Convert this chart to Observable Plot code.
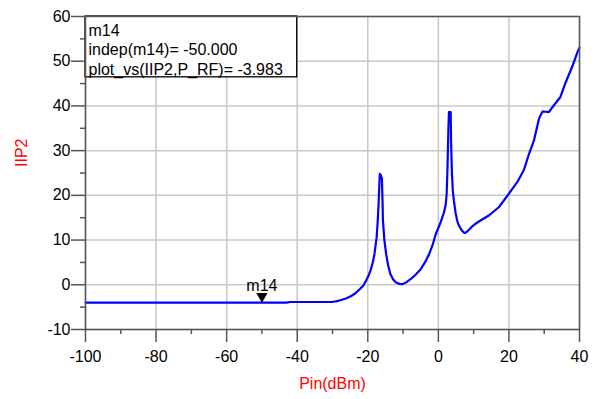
<!DOCTYPE html>
<html>
<head>
<meta charset="utf-8">
<script src="https://cdn.jsdelivr.net/npm/d3@7"></script>
<script src="https://cdn.jsdelivr.net/npm/@observablehq/plot@0.6"></script>
<style>
  html, body { margin: 0; padding: 0; background: #fff; }
  #chart svg { display: block; }
</style>
</head>
<body>
<div id="chart"></div>
<script>
// Pin (dBm) values and the IIP2 curve
const pin = [-100, -90, -80, -70, -60, -50, -43, -42, -35, -30, -29, -27.5, -26, -24.7, -23.5, -22.3, -21.3, -20.5, -19.8, -19.1,
  -18.6, -18.1, -17.5, -17.2, -16.9, -16.6, -16.3, -16.0, -15.8, -15.7, -15.3, -14.8, -14.2, -13.6, -12.8, -12.0, -11.0, -10.1, -9.0, -7.8,
  -6.4, -5.0, -3.8, -2.6, -1.6, -0.75, 0.66, 1.6, 2.1, 2.35, 2.55, 2.7, 2.85, 3.0, 3.5, 3.6, 3.85, 4.1, 4.4, 4.9,
  5.35, 5.8, 6.5, 7.2, 7.6, 8.0, 8.7, 9.5, 10.6, 12.4, 14.3, 17.2, 20.0, 22.4, 24.2, 25.7, 27.1, 28.5, 29.2, 29.6,
  30.4, 31.3, 32.7, 34.6, 36.1, 37.9, 39.4, 40];
const iip2 = [-3.98, -3.98, -3.98, -3.98, -3.98, -3.983, -3.98, -3.85, -3.85, -3.8, -3.7, -3.4, -3.0, -2.5, -1.9, -1.0, -0.2, 0.9, 2.0, 3.5,
  5.0, 6.9, 10.6, 14.0, 18.8, 24.8, 24.5, 23.7, 18.0, 14.3, 10.0, 6.9, 4.2, 2.4, 1.2, 0.5, 0.2, 0.15, 0.6, 1.3,
  2.3, 3.5, 5.0, 6.9, 9.0, 11.3, 14.0, 16.2, 18.0, 20.3, 25.0, 30.0, 35.0, 38.6, 38.6, 32.0, 24.8, 21.0, 18.8, 16.0,
  14.3, 13.3, 12.3, 11.7, 11.6, 11.8, 12.3, 13.0, 13.7, 14.6, 15.5, 17.4, 20.4, 23.0, 25.6, 29.3, 32.3, 37.1, 38.3, 38.8,
  38.7, 38.6, 40.1, 42.0, 45.3, 48.7, 52.0, 53.0];

// Axis ticks
const xTicks = [-100, -80, -60, -40, -20, 0, 20, 40];
const xMinorTicks = [-90, -70, -50, -30, -10, 10, 30];
const yTicks = [-10, 0, 10, 20, 30, 40, 50, 60];
const yMinorTicks = [-5, 5, 15, 25, 35, 45, 55];

// Marker m14
const markerName = ["m14"];
const markerX = [-50.0];
const markerY = [-3.983];
const markerLines = ["m14", "indep(m14)= -50.000", "plot_vs(IIP2,P_RF)= -3.983"];
// readout box extent (data units)
const boxX = [-100, -40];
const boxY = [60, 46.4];

const xLabel = "Pin(dBm)";
const yLabel = "IIP2";

const data = pin.map((p, i) => ({pin: p, iip2: iip2[i]}));
const marker = markerName.map((n, i) => ({name: n, x: markerX[i], y: markerY[i]}));
const box = [{x1: boxX[0], x2: boxX[1], y1: boxY[0], y2: boxY[1]}];

const font = "'Liberation Sans', Arial, sans-serif";
const gridColor = "#c8c8c8";
const axisColor = "#555";
const fmt = d => String(d);

const chart = Plot.plot({
  width: 597,
  height: 399,
  marginLeft: 85,
  marginRight: 18,
  marginTop: 16,
  marginBottom: 70,
  style: {fontFamily: font, fontSize: "16px", background: "#fff", color: "#000"},
  x: {domain: [-100, 40]},
  y: {domain: [-10, 60]},
  marks: [
    Plot.gridX(xTicks, {stroke: gridColor, strokeOpacity: 1, strokeWidth: 1.5}),
    Plot.gridY(yTicks, {stroke: gridColor, strokeOpacity: 1, strokeWidth: 1.5}),
    Plot.line(data, {x: "pin", y: "iip2", stroke: "#0000ff", strokeWidth: 2.2}),
    Plot.rect(box, {x1: "x1", x2: "x2", y1: "y1", y2: "y2", fill: "#fff", stroke: "#000", strokeWidth: 1.3}),
    Plot.text([markerLines.join("\n")], {frameAnchor: "top-left", textAnchor: "start", lineAnchor: "top",
      dx: 3, dy: 6, fontSize: 16, lineHeight: 1.2, fill: "#000"}),
    Plot.frame({stroke: axisColor, strokeWidth: 1.5}),
    Plot.axisX(xTicks, {tickSize: 13, tickPadding: 8, fontSize: 16, tickFormat: fmt, stroke: axisColor, strokeWidth: 1.5, fill: "#000", label: null}),
    Plot.axisX(xMinorTicks, {tickSize: 5, tickFormat: () => "", stroke: axisColor, strokeWidth: 1.5, label: null}),
    Plot.axisY(yTicks, {tickSize: 14, tickPadding: 1, fontSize: 16, tickFormat: fmt, stroke: axisColor, strokeWidth: 1.5, fill: "#000", label: null}),
    Plot.axisY(yMinorTicks, {tickSize: 5, tickFormat: () => "", stroke: axisColor, strokeWidth: 1.5, label: null}),
    Plot.dot(marker, {x: "x", y: "y", symbol: "triangle", rotate: 180, r: 4.2, fill: "#000", stroke: "none", dy: -6.3}),
    Plot.text(marker, {x: "x", y: "y", text: "name", dy: -17, fontSize: 16, fill: "#000"}),
    Plot.text([xLabel], {frameAnchor: "bottom", dy: 59, fontSize: 16, fill: "#ff0000"}),
    Plot.text([yLabel], {frameAnchor: "left", dx: -64, dy: -6, rotate: -90, fontSize: 16, fill: "#ff0000"})
  ]
});
document.getElementById("chart").appendChild(chart);
</script>
</body>
</html>
